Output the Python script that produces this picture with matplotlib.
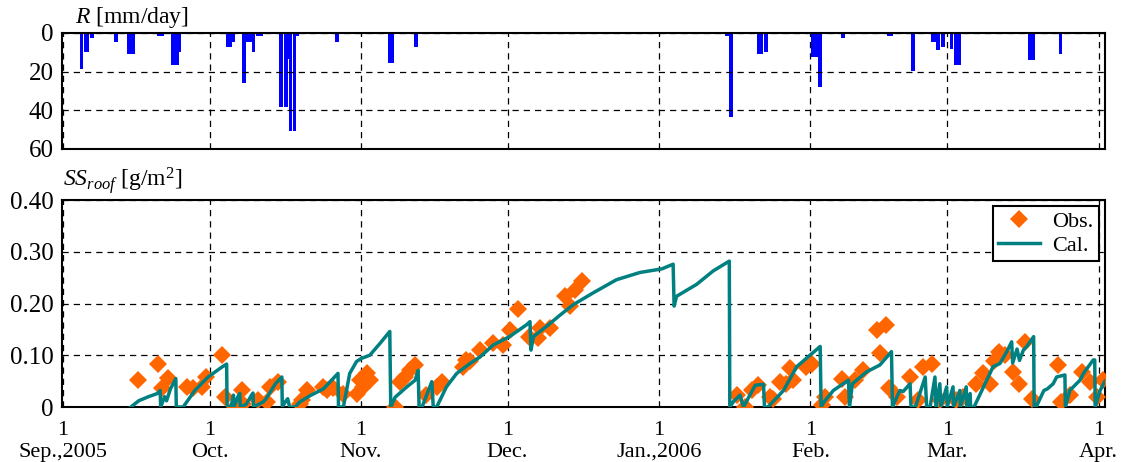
import numpy as np
import matplotlib
matplotlib.use("Agg")
import matplotlib.pyplot as plt

plt.rcParams['font.family'] = ['Liberation Serif', 'DejaVu Serif']
plt.rcParams['mathtext.fontset'] = 'custom'
plt.rcParams['mathtext.rm'] = 'Liberation Serif'
plt.rcParams['mathtext.it'] = 'Liberation Serif:italic'

# days counted from 1 Sep 2005
month_days = [0, 30, 61, 91, 122, 153, 181, 212]
month_labels = ["1\nSep.,2005", "1\nOct.", "1\nNov.", "1\nDec.",
                "1\nJan.,2006", "1\nFeb.", "1\nMar.", "1\nApr."]

# daily rainfall [mm/day]
rain_day = [3.8, 4.6, 5.0, 5.9, 10.8, 13.5, 14.3, 19.6, 20.4, 22.5, 23.3, 23.8,
            32.8, 33.7, 34.3, 34.8, 37.0, 37.7, 38.3, 39.0, 39.9, 40.5,
            44.6, 45.6, 45.9, 46.6, 47.4, 48.0, 48.9, 49.5, 56.1,
            66.9, 67.3, 72.3, 75.3, 95.3, 123.5, 124.8,
            135.9, 136.8, 138.6, 142.4, 143.0, 143.9,
            153.5, 154.1, 154.9, 159.7, 169.0, 169.5, 170.1, 173.0, 174.0,
            178.0, 178.5, 179.1, 180.1, 181.9, 182.8, 183.4,
            198.0, 198.5, 200.4, 204.2, 210.3]
rain_mm = [18.5, 10.0, 10.0, 2.8, 4.5, 11.0, 11.0, 1.7, 1.7, 16.3, 16.3, 10.0,
           0.5, 7.0, 7.0, 4.9, 25.7, 4.9, 4.9, 10.0, 1.7, 1.7,
           38.2, 38.2, 13.2, 50.7, 50.7, 1.7, 0.7, 0.7, 4.5,
           15.3, 15.3, 7.0, 0.5, 0.5, 0.5, 0.5,
           1.7, 43.4, 0.5, 11.1, 11.1, 10.0,
           12.2, 12.2, 27.8, 2.8, 1.7, 1.7, 0.5, 0.5, 19.5,
           4.5, 4.5, 9.0, 7.0, 8.3, 16.3, 16.3,
           14.2, 14.2, 0.5, 11.1, 0.5]

# observed SS on roof [g/m2]
obs_day = [15.3, 19.5, 20.2, 21.4, 25.3, 26.7, 28.4, 29.2, 32.5, 33.2, 35.2,
           36.6, 36.9, 40.0, 41.7, 42.4, 44.1, 48.5, 48.9, 49.9, 53.3, 54.0,
           55.3, 57.4, 60.1, 60.8, 61.5, 62.2, 62.8, 68.0, 69.0, 70.0, 71.0,
           72.1, 74.4, 76.5, 77.5, 81.9, 82.6, 83.3, 85.4, 88.1, 90.1, 91.5,
           93.2, 95.3, 97.3, 97.6, 99.7, 102.8, 103.8, 104.8, 106.2,
           137.9, 139.6, 141.0, 142.3, 144.7, 145.4, 146.8, 148.1, 148.8,
           149.5, 152.2, 153.3, 155.3, 156.0, 159.4, 160.1, 162.1, 163.8,
           166.6, 167.2, 168.5, 169.0, 170.7, 173.4, 175.1, 176.1, 177.8,
           179.5, 182.9, 184.3, 187.0, 188.4, 189.8, 190.5, 191.7, 192.8,
           194.5, 195.6, 196.9, 198.3, 203.7, 204.4, 206.1, 208.5, 210.2,
           211.6, 212.9]
obs_ss = [0.053, 0.084, 0.036, 0.057, 0.039, 0.036, 0.039, 0.058, 0.100, 0.019, 0.000,
          0.032, 0.006, 0.013, 0.010, 0.039, 0.049, 0.006, 0.013, 0.032, 0.039, 0.032,
          0.036, 0.026, 0.026, 0.052, 0.039, 0.065, 0.052, 0.000, 0.049, 0.058, 0.071,
          0.081, 0.023, 0.039, 0.049, 0.078, 0.091, 0.088, 0.110, 0.123, 0.120, 0.149,
          0.189, 0.136, 0.133, 0.153, 0.153, 0.214, 0.195, 0.227, 0.243,
          0.023, 0.000, 0.032, 0.042, 0.019, 0.016, 0.049, 0.045, 0.075,
          0.052, 0.078, 0.084, 0.003, 0.019, 0.055, 0.019, 0.052, 0.071,
          0.149, 0.104, 0.159, 0.036, 0.019, 0.058, 0.013, 0.078, 0.084,
          0.013, 0.013, 0.019, 0.045, 0.065, 0.045, 0.088, 0.107, 0.100,
          0.068, 0.045, 0.126, 0.016, 0.081, 0.010, 0.023, 0.068, 0.049,
          0.019, 0.052]

# calculated SS on roof [g/m2]
cal_day = [13.9, 15.5, 17.5, 19.3, 19.9, 20.0, 20.8, 21.2, 22.0, 23.1, 23.2,
           24.6, 27.0, 29.7, 32.5, 33.5, 33.6,
           34.4, 34.9, 35.0, 35.8, 36.2, 36.3, 37.5, 38.6, 38.9, 39.0, 40.0,
           41.0, 41.5, 42.5, 43.5, 44.8, 44.9,
           45.5, 46.0, 46.4, 47.5, 48.5, 50.6, 53.3, 55.3, 56.3, 56.4,
           57.4, 58.7, 60.1, 61.1, 62.8, 64.9, 66.9, 67.1,
           68.0, 70.4, 72.1, 72.7, 72.9, 73.5, 75.5, 75.8,
           76.5, 78.5, 80.6, 83.3, 85.4, 88.1, 91.4, 94.9, 95.6, 95.8, 96.3,
           99.0, 101.8, 104.5, 108.6, 113.3, 118.1, 122.6, 124.9, 125.1, 125.6,
           129.7, 133.1, 136.4, 136.5,
           137.2, 138.6, 139.0, 139.3, 141.7, 143.4, 143.6,
           144.3, 147.5, 150.2, 152.9, 155.0, 155.2,
           155.8, 157.7, 160.8, 161.0, 161.6, 164.5, 167.2, 169.6, 169.8,
           170.7, 171.3, 172.0, 173.4, 173.6, 174.5, 176.5, 176.8,
           177.5, 178.5, 178.7, 179.5, 179.7, 180.9, 181.0, 182.2, 182.3,
           183.6, 183.7, 184.9, 185.0, 185.7, 185.8,
           186.5, 189.1, 190.4, 191.8, 193.2, 194.2, 194.4, 195.3, 195.8,
           196.6, 197.3, 198.7, 198.8,
           199.2, 200.8, 201.5, 202.7, 203.4, 205.1, 205.2,
           206.1, 208.2, 208.9, 210.9, 211.2, 211.3, 212.3, 213.3]
cal_ss = [0.000, 0.012, 0.020, 0.026, 0.032, 0.000, 0.020, 0.012, 0.035, 0.055, 0.000,
          0.000, 0.032, 0.058, 0.077, 0.083, 0.000,
          0.000, 0.023, 0.000, 0.020, 0.026, 0.000, 0.005, 0.023, 0.027, 0.000, 0.005,
          0.010, 0.015, 0.030, 0.045, 0.058, 0.000,
          0.010, 0.016, 0.000, 0.000, 0.010, 0.022, 0.035, 0.055, 0.065, 0.000,
          0.000, 0.065, 0.088, 0.094, 0.100, 0.123, 0.146, 0.000,
          0.019, 0.039, 0.052, 0.071, 0.000, 0.000, 0.049, 0.000,
          0.000, 0.039, 0.065, 0.084, 0.097, 0.120, 0.136, 0.159, 0.165, 0.110, 0.136,
          0.156, 0.178, 0.198, 0.221, 0.246, 0.260, 0.267, 0.276, 0.195, 0.214,
          0.237, 0.263, 0.282, 0.000,
          0.010, 0.023, 0.010, 0.000, 0.042, 0.044, 0.000,
          0.000, 0.032, 0.078, 0.100, 0.117, 0.000,
          0.010, 0.032, 0.052, 0.000, 0.045, 0.068, 0.081, 0.107, 0.000,
          0.019, 0.032, 0.030, 0.045, 0.000, 0.000, 0.058, 0.000,
          0.000, 0.058, 0.000, 0.045, 0.000, 0.039, 0.000, 0.039, 0.000,
          0.032, 0.000, 0.039, 0.000, 0.026, 0.000,
          0.000, 0.052, 0.078, 0.084, 0.107, 0.126, 0.085, 0.112, 0.090,
          0.110, 0.117, 0.136, 0.000,
          0.000, 0.032, 0.035, 0.045, 0.058, 0.062, 0.000,
          0.032, 0.052, 0.065, 0.091, 0.091, 0.000, 0.032, 0.050]

xlim = (-0.2, 213.3)
grid_kw = dict(color='black', linestyle=(0, (5, 4)), linewidth=0.9)

fig = plt.figure(figsize=(11.21, 4.62), dpi=100)
ax_r = fig.add_axes([0.0553, 0.6775, 0.9304, 0.2511])
ax_s = fig.add_axes([0.0553, 0.119, 0.9304, 0.448])

# rainfall, drawn downward from the top
ax_r.bar(rain_day, rain_mm, width=0.75, color='#0000ff', align='center')
ax_r.set_xlim(*xlim)
ax_r.set_ylim(60, 0)
ax_r.set_yticks([0, 20, 40, 60])
ax_r.set_xticks(month_days)
ax_r.set_xticklabels([])
ax_r.grid(True, **grid_kw)
ax_r.set_axisbelow(False)

# roof SS
ax_s.plot(obs_day, obs_ss, linestyle='none', marker='D', markersize=9,
          color='#ff6600', markeredgewidth=0, label='Obs.', zorder=3)
ax_s.plot(cal_day, cal_ss, color='#008080', linewidth=2.5, label='Cal.', zorder=4)
ax_s.set_xlim(*xlim)
ax_s.set_ylim(0, 0.40)
ax_s.set_yticks([0, 0.1, 0.2, 0.3, 0.4])
ax_s.set_yticklabels(['0', '0.10', '0.20', '0.30', '0.40'])
ax_s.set_xticks(month_days)
ax_s.set_xticklabels(month_labels, linespacing=1.2)
ax_s.grid(True, **grid_kw)

for ax in (ax_r, ax_s):
    ax.tick_params(direction='in', length=0, pad=6)
    ax.tick_params(axis='y', labelsize=18)
    for sp in ax.spines.values():
        sp.set_linewidth(1.5)
ax_s.tick_params(axis='x', labelsize=16, pad=10)

leg = ax_s.legend(loc='upper right', fontsize=16, fancybox=False, framealpha=1,
                  edgecolor='black', borderpad=0.25, labelspacing=0.15,
                  handlelength=1.9, handletextpad=0.55, borderaxespad=0.25)
leg.get_frame().set_linewidth(1.5)

fig.text(0.067, 0.962, r'$R$ [mm/day]', fontsize=17, va='center', ha='left')
fig.text(0.056, 0.61, r'$SS_{roof}$ [g/m$^2$]', fontsize=17, va='center', ha='left')

fig.savefig('out.png', dpi=100)
